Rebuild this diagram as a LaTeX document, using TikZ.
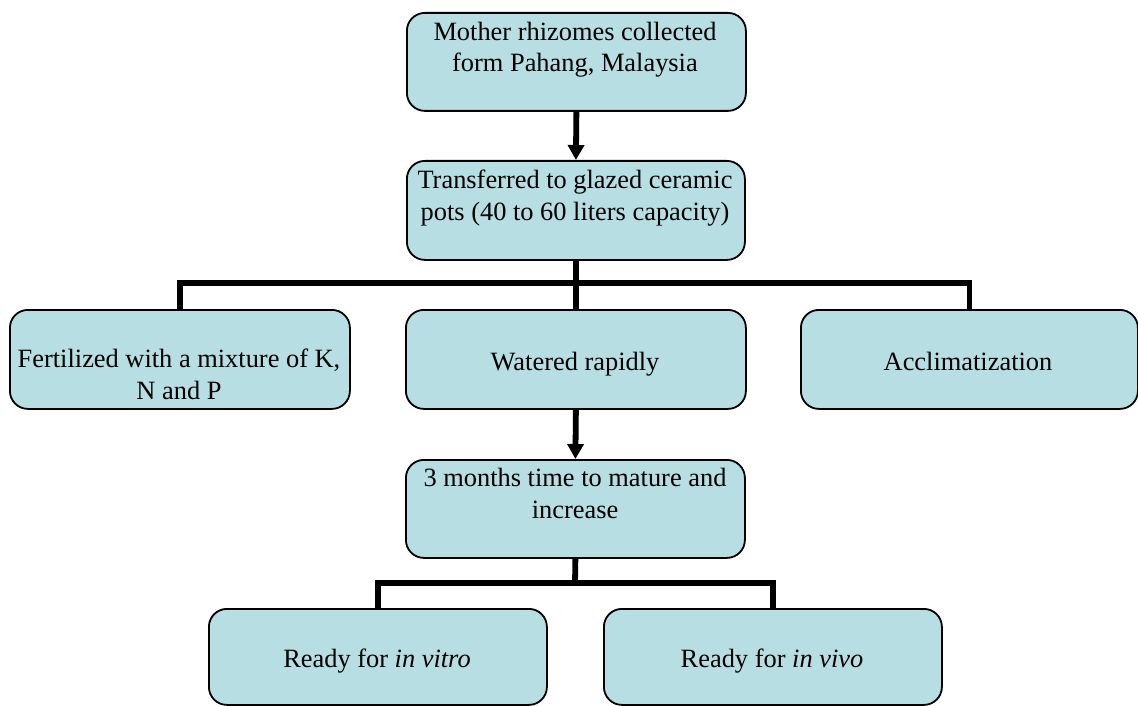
\documentclass[tikz,border=0pt]{standalone}
\usepackage{fontspec}
\setmainfont{Liberation Serif}
\usetikzlibrary{arrows.meta}
\definecolor{boxfill}{RGB}{183,222,226}
\begin{document}
\begin{tikzpicture}[x=1pt,y=-1pt,
  stepbox/.style={draw=black, line width=1.8pt, fill=boxfill, rounded corners=18pt,
    inner sep=0pt, anchor=north west},
  steptext/.style={align=center, inner sep=0pt, anchor=base,
    font=\fontsize{26.4}{31.5}\selectfont},
  conn/.style={line width=5.8pt, draw=black},
  arr/.style={conn, -{Triangle[width=16pt,length=15pt]}},
]
\useasboundingbox (0,0) rectangle (1138,706);

% boxes
\node[stepbox, minimum width=339pt, minimum height=98pt] (mother)   at (406,12)  {};
\node[stepbox, minimum width=338pt, minimum height=99pt] (transfer) at (406,160) {};
\node[stepbox, minimum width=340pt, minimum height=99pt] (fert)     at (9,309)   {};
\node[stepbox, minimum width=340pt, minimum height=99pt] (water)    at (405,309) {};
\node[stepbox, minimum width=337pt, minimum height=99pt] (accl)     at (800,309) {};
\node[stepbox, minimum width=339pt, minimum height=98pt] (mature)   at (405,459) {};
\node[stepbox, minimum width=338pt, minimum height=96pt] (vitro)    at (208,608) {};
\node[stepbox, minimum width=338pt, minimum height=96pt] (vivo)     at (603,608) {};

% texts (anchored on the baseline of the last line)
\node[steptext] (tmother)   at (575,72)  {Mother rhizomes collected\\form Pahang, Malaysia};
\node[steptext] (ttransfer) at (575,220) {Transferred to glazed ceramic\\pots (40 to 60 liters capacity)};
\node[steptext] (tfert)     at (179,399) {Fertilized with a mixture of K,\\N and P};
\node[steptext] (twater)    at (575,370) {Watered rapidly};
\node[steptext] (taccl)     at (968,370) {Acclimatization};
\node[steptext] (tmature)   at (575,518) {3 months time to mature and\\increase};
\node[steptext] (tvitro)    at (377,667) {Ready for \textit{in vitro}};
\node[steptext] (tvivo)     at (772,667) {Ready for \textit{in vivo}};

% connectors
\coordinate (busA) at (575,283);
\coordinate (busB) at (575,583);
\draw[arr] (mother.south) -- (transfer.north);
\draw[conn] (transfer.south) -- (water.north);
\draw[conn] (fert.north) |- (busA) -| (accl.north);
\draw[arr] (water.south) -- (mature.north);
\draw[conn] (mature.south) -- (busB);
\draw[conn] (vitro.north) |- (busB) -| (vivo.north);
\end{tikzpicture}
\end{document}
